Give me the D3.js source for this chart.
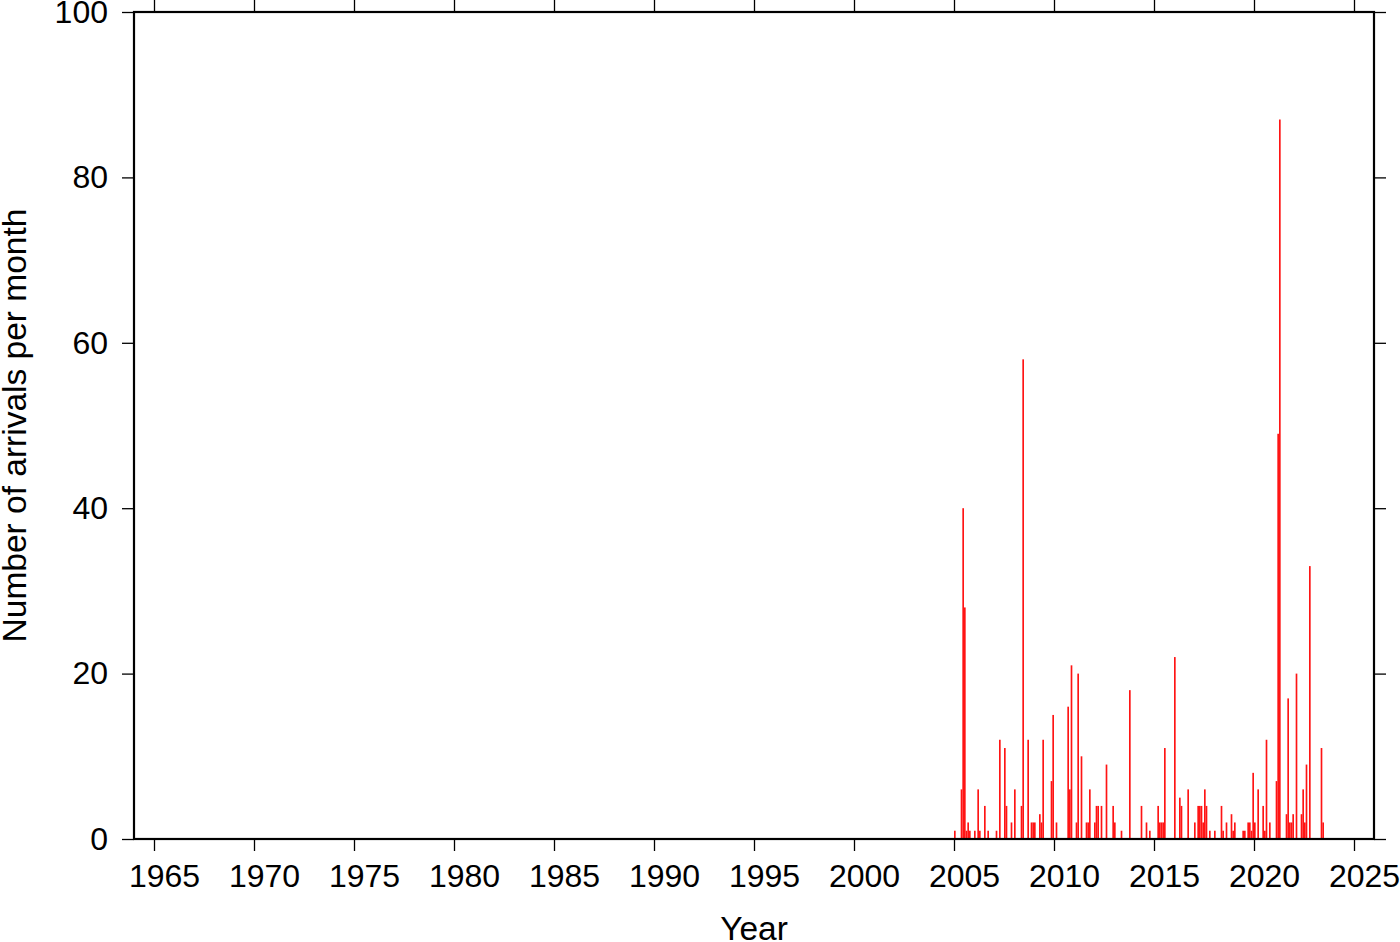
<!DOCTYPE html>
<html>
<head>
<meta charset="utf-8">
<script src="https://cdn.jsdelivr.net/npm/d3@7"></script>
<style>
html, body { margin: 0; padding: 0; background: #fff; }
svg { display: block; }
text { font-family: "Liberation Sans", Helvetica, Arial, sans-serif; fill: #000; }
</style>
</head>
<body>
<svg id="chart" width="1400" height="942"></svg>
<script>
// Monthly arrival counts (year-month)
const months = [
  "2005-01","2005-05","2005-06","2005-07","2005-08","2005-09","2005-10",
  "2006-01","2006-03","2006-04","2006-07","2006-09",
  "2007-02","2007-04","2007-07","2007-08","2007-11",
  "2008-01","2008-05","2008-06","2008-09","2008-11","2008-12",
  "2009-01","2009-04","2009-05","2009-06","2009-11","2009-12",
  "2010-02","2010-09","2010-10","2010-11",
  "2011-02","2011-03","2011-05","2011-08","2011-09","2011-10",
  "2012-01","2012-02","2012-03","2012-05","2012-08","2012-12",
  "2013-01","2013-05","2013-10",
  "2014-05","2014-08","2014-10",
  "2015-03","2015-04","2015-05","2015-06","2015-07",
  "2016-01","2016-04","2016-05","2016-09",
  "2017-01","2017-03","2017-04","2017-05","2017-06","2017-07","2017-08","2017-10",
  "2018-01","2018-05","2018-06","2018-08","2018-11","2018-12",
  "2019-01","2019-06","2019-07","2019-09","2019-10","2019-11","2019-12",
  "2020-01","2020-03","2020-06","2020-07","2020-08","2020-10",
  "2021-02","2021-03","2021-04","2021-08","2021-09","2021-10","2021-11","2021-12",
  "2022-02","2022-05","2022-06","2022-07","2022-08","2022-10",
  "2023-05","2023-06"
];
const counts = [
  1,6,40,28,1,2,1,
  1,6,1,4,1,
  1,12,11,4,2,
  6,4,58,12,2,2,
  2,3,2,12,7,15,
  2,16,6,21,
  2,20,10,2,2,6,
  2,4,4,4,9,4,
  2,1,18,
  4,2,1,
  4,2,2,2,11,
  22,5,4,6,
  2,4,4,4,2,6,4,1,
  1,4,1,2,3,1,
  2,1,1,2,2,1,8,
  2,6,4,1,12,2,
  7,49,87,3,17,2,2,3,
  20,3,6,2,9,33,
  11,2
];
const xTickValues = [1965,1970,1975,1980,1985,1990,1995,2000,2005,2010,2015,2020,2025];
const yTickValues = [0,20,40,60,80,100];
const xLabel = "Year";
const yLabel = "Number of arrivals per month";

const data = months.map((m, i) => {
  const [yy, mm] = m.split("-").map(Number);
  return { t: yy + (mm - 1) / 12, v: counts[i] };
});

const L = 134, R = 1374, T = 12, B = 839;
const svg = d3.select("#chart");

const x = d3.scaleLinear().domain([1964, 2026]).range([L, R]);
const y = d3.scaleLinear().domain([0, 100]).range([B, T]);
const FS = 32;
const TFS = 33.5;

// bars
svg.append("g")
  .selectAll("rect")
  .data(data)
  .join("rect")
  .attr("x", d => x(d.t))
  .attr("width", d => x(d.t + 1 / 12) - x(d.t))
  .attr("y", d => y(d.v))
  .attr("height", d => y(0) - y(d.v))
  .attr("fill", "#ff1414");

function styleAxis(g) {
  g.select(".domain").remove();
  g.selectAll(".tick line").attr("stroke", "#000").attr("stroke-width", 1.3);
  g.selectAll(".tick text").style("font-size", FS + "px").attr("fill", "#000");
}
const xb = svg.append("g").attr("transform", `translate(0,${B})`)
  .call(d3.axisBottom(x).tickValues(xTickValues).tickFormat(d3.format("d")).tickSize(12).tickPadding(14));
styleAxis(xb);
xb.selectAll(".tick text").attr("dy", null).attr("y", 48).attr("x", 10);

const xt = svg.append("g").attr("transform", `translate(0,${T})`)
  .call(d3.axisTop(x).tickValues(xTickValues).tickFormat("").tickSize(12));
styleAxis(xt);

const yl = svg.append("g").attr("transform", `translate(${L},0)`)
  .call(d3.axisLeft(y).tickValues(yTickValues).tickFormat(d3.format("d")).tickSize(12).tickPadding(14));
styleAxis(yl);

const yr = svg.append("g").attr("transform", `translate(${R},0)`)
  .call(d3.axisRight(y).tickValues(yTickValues).tickFormat("").tickSize(12));
styleAxis(yr);

// frame
svg.append("rect")
  .attr("x", L).attr("y", T)
  .attr("width", R - L).attr("height", B - T)
  .attr("fill", "none").attr("stroke", "#000").attr("stroke-width", 2.2);

// axis titles
svg.append("text")
  .attr("x", (L + R) / 2).attr("y", 940)
  .attr("text-anchor", "middle")
  .style("font-size", TFS + "px")
  .text(xLabel);

svg.append("text")
  .attr("transform", `translate(26,${(T + B) / 2}) rotate(-90)`)
  .attr("text-anchor", "middle")
  .style("font-size", TFS + "px")
  .text(yLabel);
</script>
</body>
</html>
